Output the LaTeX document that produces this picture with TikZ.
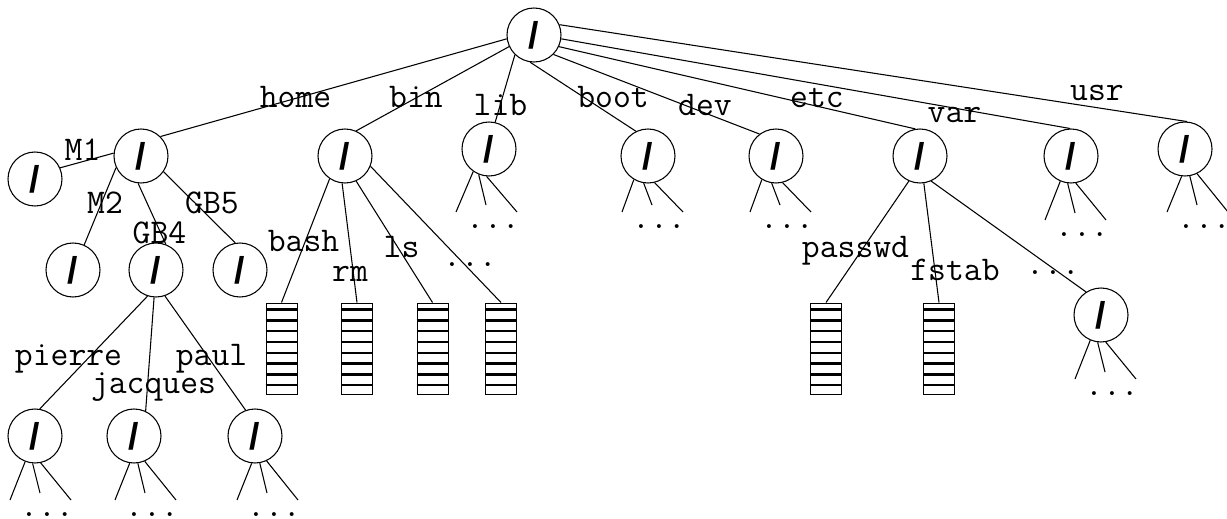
\documentclass[tikz,border=0pt]{standalone}
\usepackage{fontspec}
\newfontfamily\slashfont{Liberation Sans}
\usetikzlibrary{calc}
\newcommand\stubs[3]{%
  \coordinate (#1a) at (#2-15,#3+37);
  \coordinate (#1b) at (#2+15,#3+30);
  \coordinate (#1c) at (#2+46,#3+37);
  \draw[edge] let \p1=($(#2,#3)-(#1.center)$), \n1={atan2(\y1,\x1)+360} in (#1.\n1) -- (#1a);
  \draw[edge] let \p1=($(#2+8,#3)-(#1.center)$), \n1={atan2(\y1,\x1)+360} in (#1.\n1) -- (#1b);
  \draw[edge] let \p1=($(#2+16,#3)-(#1.center)$), \n1={atan2(\y1,\x1)+360} in (#1.\n1) -- (#1c);
  \node[lbl] (#1dots) at (#2+22,#3+53) {...};
}
\begin{document}
\begin{tikzpicture}[x=0.75pt,y=-0.75pt,
  dir/.style={draw, circle, minimum size=40.5pt, inner sep=0pt, line width=0.8pt,
    font=\slashfont\bfseries\fontsize{28}{28}\selectfont},
  edge/.style={line width=0.8pt},
  lbl/.style={anchor=base, inner sep=0pt, font=\ttfamily\fontsize{26}{30}\selectfont},
  filebox/.style={draw, rectangle, minimum width=23.25pt, minimum height=68.25pt,
    inner sep=0pt, line width=0.75pt},
  stripe/.style={line width=1.8pt}]
\useasboundingbox (0,0) rectangle (1227,518);

% directories
\node[dir] (root) at (534,35) {/};
\node[dir] (home) at (141,156) {/};
\node[dir] (bin) at (345,156) {/};
\node[dir] (lib) at (489,149) {/};
\node[dir] (boot) at (648,156) {/};
\node[dir] (dev) at (776,156) {/};
\node[dir] (etc) at (920,156) {/};
\node[dir] (var) at (1071,156) {/};
\node[dir] (usr) at (1185,149) {/};
\node[dir] (m1) at (35,179) {/};
\node[dir] (m2) at (73,270) {/};
\node[dir] (gb4) at (156,270) {/};
\node[dir] (gb5) at (240,270) {/};
\node[dir] (pierre) at (35,436) {/};
\node[dir] (jacques) at (134,436) {/};
\node[dir] (paul) at (255,436) {/};
\node[dir] (sub) at (1101,315) {/};

% files
\node[filebox] (f1) at (281.5,348.5) {};
\node[filebox] (f2) at (357,348.5) {};
\node[filebox] (f3) at (432.5,348.5) {};
\node[filebox] (f4) at (501,348.5) {};
\node[filebox] (f5) at (826,348.5) {};
\node[filebox] (f6) at (939,348.5) {};
\foreach \f in {f1,f2,f3,f4,f5,f6}
  \foreach \k in {7,17.8,28.6,39.4,50.2,61,71.8,82.6}
    \draw[stripe] ($(\f.north west)+(0,\k)$) -- ($(\f.north east)+(0,\k)$);

% edges from root
\draw[edge] (root.188) -- (home.45);
\draw[edge] (root.205) -- (bin.66);
\draw[edge] (root.226) -- (lib.77);
\draw[edge] (root.262) -- (boot.116);
\draw[edge] (root.315) -- (dev.127);
\draw[edge] (root.335) -- (etc.100);
\draw[edge] (root.352) -- (var.92);
\draw[edge] (root.22) -- (usr.86);

% home subtree
\draw[edge] (home.174) -- (m1.24);
\draw[edge] (home.205) -- (m2.66);
\draw[edge] (home.264) -- (gb4.69);
\draw[edge] (home.325) -- (gb5.100);
\draw[edge] (gb4.252) -- (pierre.80);
\draw[edge] (gb4.266) -- (jacques.65);
\draw[edge] (gb4.289) -- (paul.110);

% bin subtree
\draw[edge] (bin.236) -- (f1.north);
\draw[edge] (bin.264) -- (f2.north);
\draw[edge] (bin.294) -- (f3.north);
\draw[edge] (bin.338) -- (f4.north);

% etc subtree
\draw[edge] (etc.246) -- (f5.north);
\draw[edge] (etc.278) -- (f6.north);
\draw[edge] (etc.294) -- (sub.123);

% elided subtrees
\stubs{lib}{471}{175}
\stubs{boot}{637}{175}
\stubs{dev}{765}{175}
\stubs{var}{1060}{183}
\stubs{usr}{1182}{175}
\stubs{pierre}{25}{463}
\stubs{jacques}{130}{463}
\stubs{paul}{252}{463}
\stubs{sub}{1090}{342}

% labels
\node[lbl] (lhome) at (295.5,107) {home};
\node[lbl] (lbin) at (416,107) {bin};
\node[lbl] (llib) at (500.5,115) {lib};
\node[lbl] (lboot) at (613,107) {boot};
\node[lbl] (ldev) at (705,115) {dev};
\node[lbl] (letc) at (817,107) {etc};
\node[lbl] (lvar) at (954.5,122) {var};
\node[lbl] (lusr) at (1097,100) {usr};
\node[lbl] (lm1) at (82.5,160) {M1};
\node[lbl] (lm2) at (105,213) {M2};
\node[lbl] (lgb4) at (159.5,243) {GB4};
\node[lbl] (lgb5) at (212,213) {GB5};
\node[lbl] (lbash) at (303.5,251) {bash};
\node[lbl] (lrm) at (350,281) {rm};
\node[lbl] (lls) at (401.5,257) {ls};
\node[lbl] (lbindots) at (470,266) {...};
\node[lbl] (lpierre) at (68.5,365) {pierre};
\node[lbl] (lpaul) at (211.5,365) {paul};
\node[lbl] (ljacques) at (153.5,393) {jacques};
\node[lbl] (lpasswd) at (855.5,257) {passwd};
\node[lbl] (lfstab) at (955,280) {fstab};
\node[lbl] (letcdots) at (1053,274) {...};
\end{tikzpicture}
\end{document}
